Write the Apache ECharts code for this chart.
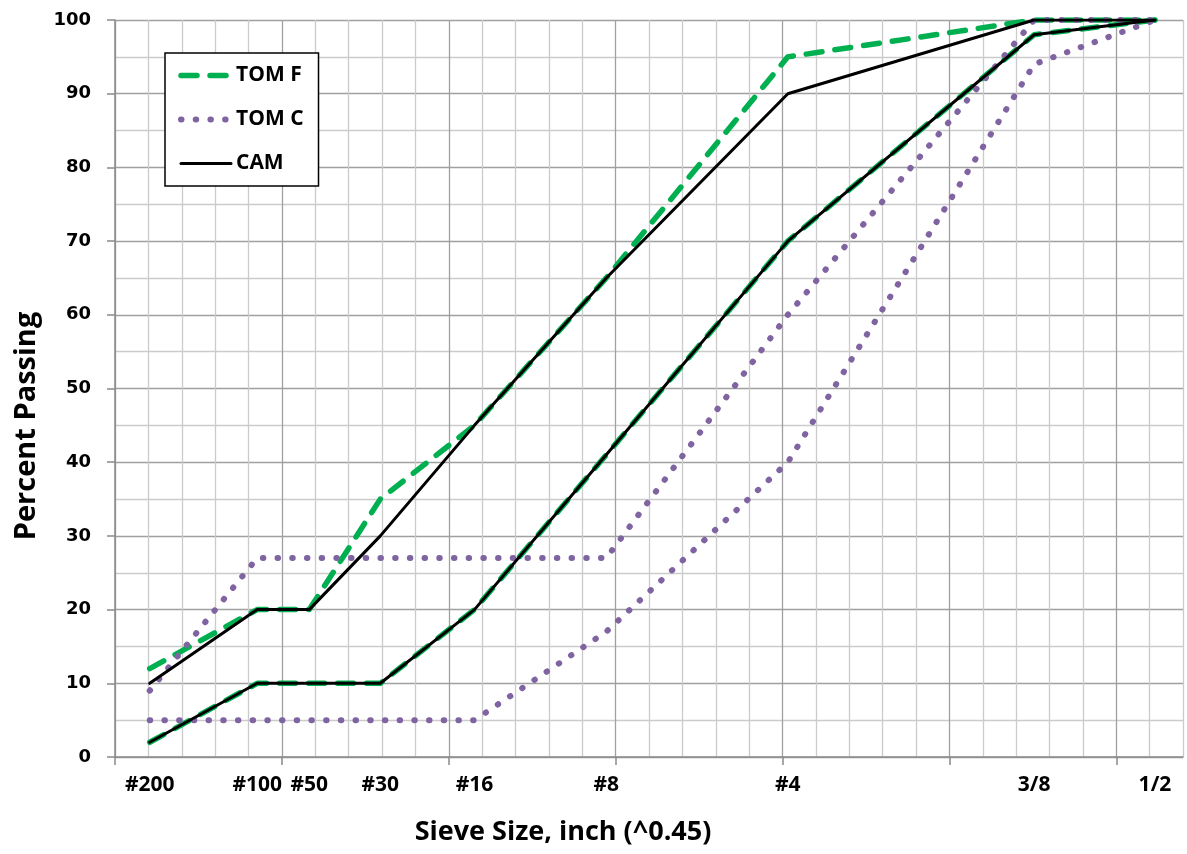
<!DOCTYPE html>
<html>
<head>
<meta charset="utf-8">
<script src="https://cdn.jsdelivr.net/npm/echarts@6/dist/echarts.min.js"></script>
<style>
html,body{margin:0;padding:0;background:#fff;}
#chart{width:1187px;height:854px;}
</style>
</head>
<body>
<div id="chart"></div>
<script>
// Sieve labels and their x positions (sieve opening in mm raised to 0.45)
const sieveLabels = ['#200', '#100', '#50', '#30', '#16', '#8', '#4', '3/8', '1/2'];
const sieveX = [0.104, 0.426, 0.582, 0.795, 1.077, 1.472, 2.016, 2.754, 3.116];

// Percent passing (upper and lower band limits)
const tomFUpper = [12, 20, 20, 35, 45, 65, 95, 100, 100];
const tomFLower = [2, 10, 10, 10, 20, 41, 70, 98, 100];
const tomCUpper = [9, 27, 27, 27, 27, 27, 60, 100, 100];
const tomCLower = [5, 5, 5, 5, 5, 17, 40, 94, 100];
const camUpper = [10, 20, 20, 30, 45, 65, 90, 100, 100];
const camLower = [2, 10, 10, 10, 20, 41, 70, 98, 100];

const majorXTicks = [0, 0.5, 1, 1.5, 2, 2.5, 3];

const GREEN = '#00B050', PURPLE = '#8064A2', BLACK = '#000000';
const MAJOR = '#a0a0a0', MINOR = '#cbcbcb', AXIS = '#8a8a8a';

function pts(vals) { return sieveX.map((x, i) => [x, vals[i]]); }
function mk(name, vals, color, width, type) {
  return {
    name: name, type: 'line', data: pts(vals), symbol: 'none', smooth: false,
    xAxisIndex: 0, yAxisIndex: 0,
    silent: true, animation: false,
    itemStyle: { color: color },
    lineStyle: { color: color, width: width, type: type, cap: 'round', join: 'round' }
  };
}

const gridRect = { left: 115, right: 4, top: 20, bottom: 97, containLabel: false };

const chart = echarts.init(document.getElementById('chart'), null, { renderer: 'canvas' });
chart.setOption({
  animation: false,
  backgroundColor: '#ffffff',
  grid: [Object.assign({}, gridRect), Object.assign({}, gridRect)],
  legend: {
    orient: 'vertical', left: 165, top: 53,
    padding: [12, 15, 12, 13], itemGap: 23, itemWidth: 50, itemHeight: 14,
    backgroundColor: '#ffffff', borderColor: '#000000', borderWidth: 1.5, borderRadius: 0,
    itemStyle: { opacity: 0 },
    lineStyle: { width: 'inherit', type: 'inherit', cap: 'inherit' },
    textStyle: { fontFamily: 'Open Sans', fontWeight: 'bold', fontSize: 21, color: '#000' },
    data: ['TOM F', 'TOM C', 'CAM']
  },
  xAxis: [
    {
      gridIndex: 0, type: 'value', min: 0, max: 3.2, interval: 0.1, position: 'bottom',
      axisLine: { show: true, onZero: false, lineStyle: { color: AXIS, width: 1.5 } },
      axisTick: { show: true, length: 8, customValues: majorXTicks, lineStyle: { color: AXIS, width: 1.5 } },
      axisLabel: {
        show: true, customValues: sieveX, margin: 18,
        fontFamily: 'Open Sans', fontWeight: 'bold', fontSize: 21, color: '#000',
        formatter: function (v) {
          let best = 0, d = Infinity;
          sieveX.forEach((x, i) => { if (Math.abs(x - v) < d) { d = Math.abs(x - v); best = i; } });
          return sieveLabels[best];
        }
      },
      splitLine: { show: false }
    },
    {
      gridIndex: 1, type: 'value', min: 0, max: 3.2, interval: 0.1, position: 'bottom',
      axisLine: { show: false }, axisTick: { show: false }, axisLabel: { show: false },
      splitLine: { show: true, lineStyle: { color: [MAJOR, MINOR, MINOR, MINOR, MINOR], width: 1.3 } }
    }
  ],
  yAxis: [
    {
      gridIndex: 0, type: 'value', min: 0, max: 100, interval: 10,
      axisLine: { show: true, lineStyle: { color: AXIS, width: 1.5 } },
      axisTick: { show: true, inside: false, length: 8, lineStyle: { color: AXIS, width: 1.5 } },
      axisLabel: { margin: 24, fontFamily: 'DejaVu Sans', fontWeight: 'bold', fontSize: 18, color: '#000' },
      splitLine: { show: true, lineStyle: { color: MAJOR, width: 1.3 } },
      minorTick: { show: false, splitNumber: 2 },
      minorSplitLine: { show: true, lineStyle: { color: MINOR, width: 1.3 } }
    },
    {
      gridIndex: 1, type: 'value', min: 0, max: 100, interval: 10, show: false
    }
  ],
  graphic: [
    {
      type: 'text', x: 27, y: 426, rotation: Math.PI / 2,
      style: { text: 'Percent Passing', align: 'center', verticalAlign: 'middle',
               font: 'bold 29px "Open Sans"', fill: '#000' }
    },
    {
      type: 'text', x: 563, y: 832,
      style: { text: 'Sieve Size, inch (^0.45)', align: 'center', verticalAlign: 'middle',
               font: 'bold 27px "Open Sans"', fill: '#000' }
    }
  ],
  series: [
    mk('TOM F', tomFUpper, GREEN, 5.5, [16, 13]),
    mk('TOM F', tomFLower, GREEN, 5.5, [16, 13]),
    mk('TOM C', tomCUpper, PURPLE, 6, [0.5, 14.2]),
    mk('TOM C', tomCLower, PURPLE, 6, [0.5, 14.2]),
    mk('CAM', camUpper, BLACK, 3, 'solid'),
    mk('CAM', camLower, BLACK, 3, 'solid')
  ]
});
</script>
</body>
</html>
